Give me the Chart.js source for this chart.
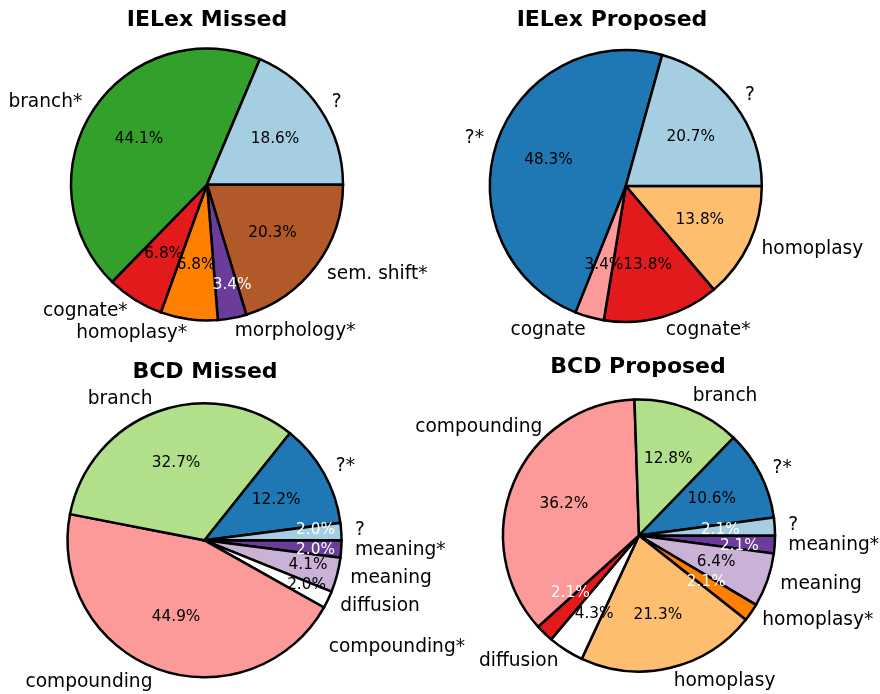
<!DOCTYPE html>
<html>
<head>
<meta charset="utf-8">
<script src="https://cdn.jsdelivr.net/npm/chart.js@4.4.1/dist/chart.umd.min.js"></script>
<style>
  body{margin:0;background:#fff}
  #wrap{position:relative;width:880px;height:694px}
  #wrap canvas{position:absolute;left:0;top:0}
</style>
</head>
<body>
<div id="wrap">
  <canvas id="c1" width="880" height="694"></canvas>
  <canvas id="c2" width="880" height="694"></canvas>
  <canvas id="c3" width="880" height="694"></canvas>
  <canvas id="c4" width="880" height="694"></canvas>
</div>
<script>
// counts per category, in matplotlib order (counter-clockwise from 3 o'clock)
const ielexMissedLabels = ['?', 'branch*', 'cognate*', 'homoplasy*', 'morphology*', 'sem. shift*']
const ielexMissedCounts = [11, 26, 4, 4, 2, 12]

const ielexProposedLabels = ['?', '?*', 'cognate', 'cognate*', 'homoplasy']
const ielexProposedCounts = [6, 14, 1, 4, 4]

const bcdMissedLabels = ['?', '?*', 'branch', 'compounding', 'compounding*', 'diffusion', 'meaning', 'meaning*']
const bcdMissedCounts = [1, 6, 16, 22, 0, 1, 2, 1]

const bcdProposedLabels = ['?', '?*', 'branch', 'compounding', 'compounding*', 'diffusion', 'homoplasy', 'homoplasy*', 'meaning', 'meaning*']
const bcdProposedCounts = [1, 5, 6, 17, 1, 2, 10, 1, 3, 1]

// Paired colormap, one colour per category
const colorOf = {
  '?': '#a6cee3', '?*': '#1f78b4',
  'branch': '#b2df8a', 'branch*': '#33a02c',
  'cognate': '#fb9a99', 'cognate*': '#e31a1c',
  'compounding': '#fb9a99', 'compounding*': '#e31a1c',
  'diffusion': '#ffffff',
  'homoplasy': '#fdbf6f', 'homoplasy*': '#ff7f00',
  'meaning': '#cab2d6', 'meaning*': '#6a3d9a',
  'morphology*': '#6a3d9a',
  'sem. shift*': '#b15928'
}

const FONT = '"DejaVu Sans", Verdana, sans-serif'
const BW = 2.5

// draws outer labels, percentages and title like matplotlib's pie()
const pieText = {
  id: 'pieText',
  afterDatasetsDraw(chart, args, opts){
    const ctx = chart.ctx
    const meta = chart.getDatasetMeta(0)
    const vals = chart.data.datasets[0].data
    const total = vals.reduce((a,b)=> a+b, 0)
    const labelNudge = opts.labelNudge || {}
    const pctNudge = opts.pctNudge || {}
    const whitePct = opts.whitePct || []
    ctx.save()
    ctx.textBaseline = 'middle'
    meta.data.forEach((arc, i)=>{
      const v = vals[i]
      if(!v) return
      const name = chart.data.labels[i]
      const p = arc.getProps(['x','y','startAngle','endAngle','outerRadius'], true)
      const mid = (p.startAngle + p.endAngle)/2
      const cs = Math.cos(mid), sn = Math.sin(mid)
      const ln = labelNudge[name] || [0,0]
      ctx.font = '18.6px ' + FONT
      ctx.fillStyle = '#000'
      ctx.textAlign = cs > 0 ? 'left' : 'right'
      ctx.fillText(name, p.x + 1.1*p.outerRadius*cs + ln[0], p.y + 1.1*p.outerRadius*sn + ln[1])

      const pn = pctNudge[name] || [0,0]
      ctx.font = '15.3px ' + FONT
      ctx.fillStyle = whitePct.includes(name) ? '#fff' : '#000'
      ctx.textAlign = 'center'
      ctx.fillText((v/total*100).toFixed(1) + '%', p.x + 0.6*p.outerRadius*cs + pn[0], p.y + 0.6*p.outerRadius*sn + pn[1])
    })
    if(opts.title){
      ctx.font = 'bold 22px ' + FONT
      ctx.fillStyle = '#000'
      ctx.textAlign = 'center'
      ctx.textBaseline = 'alphabetic'
      ctx.fillText(opts.title.text, opts.title.x, opts.title.y)
    }
    ctx.restore()
  }
}

function makePie(id, labels, counts, center, radius, extra){
  // Chart.js goes clockwise, matplotlib counter-clockwise: reverse and start at 3 o'clock
  const names = labels.slice().reverse()
  const vals = counts.slice().reverse()
  const side = 2*radius + BW
  const left = center[0] - side/2, top = center[1] - side/2
  return new Chart(document.getElementById(id), {
    type: 'pie',
    data: {
      labels: names,
      datasets: [{
        data: vals,
        backgroundColor: names.map(n=> colorOf[n]),
        borderColor: '#000',
        borderWidth: BW,
        borderJoinStyle: 'miter'
      }]
    },
    options: {
      responsive: false, animation: false, events: [],
      rotation: 90,
      layout: {padding: {left, top, right: 880-left-side, bottom: 694-top-side}},
      plugins: {legend: {display:false}, tooltip: {enabled:false}, pieText: extra}
    },
    plugins: [pieText]
  })
}

makePie('c1', ielexMissedLabels, ielexMissedCounts, [207, 184.5], 136, {
  title: {text:'IELex Missed', x:207, y:26},
  whitePct: ['morphology*'],
  pctNudge: {'morphology*': [10, 20]}
})
makePie('c2', ielexProposedLabels, ielexProposedCounts, [625.8, 186], 136, {
  title: {text:'IELex Proposed', x:612, y:26}
})
makePie('c3', bcdMissedLabels, bcdMissedCounts, [204.5, 540.3], 137, {
  title: {text:'BCD Missed', x:205, y:378},
  whitePct: ['?', 'meaning*'],
  pctNudge: {'?': [29,-5], 'meaning*': [29,4], 'meaning': [24,4], 'diffusion': [28,9]}
})
makePie('c4', bcdProposedLabels, bcdProposedCounts, [639, 535.5], 136, {
  title: {text:'BCD Proposed', x:638, y:373},
  whitePct: ['?', 'meaning*', 'homoplasy*', 'compounding*'],
  pctNudge: {'meaning*': [19,5], 'compounding*': [-12,-1], 'diffusion': [-1,10]},
  labelNudge: {'compounding': [41,-50], 'compounding*': [-70,4]}
})
</script>
</body>
</html>
